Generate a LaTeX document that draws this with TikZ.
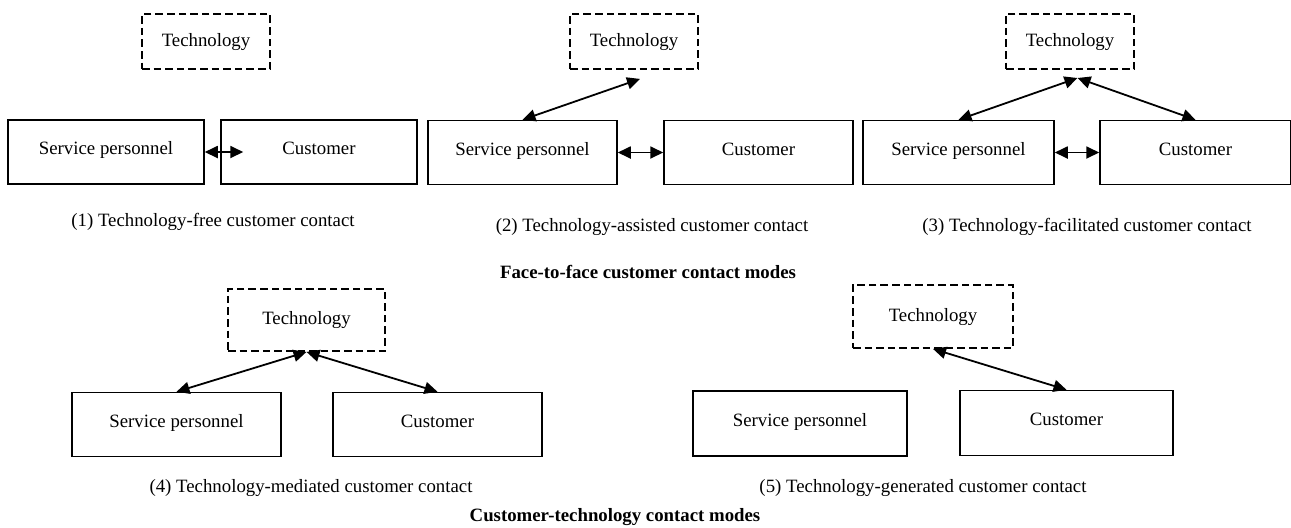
\documentclass[tikz,border=0pt]{standalone}
\usepackage{fontspec}
\setmainfont{Liberation Serif}
\usetikzlibrary{arrows.meta}

\begin{document}
\begin{tikzpicture}[x=0.5pt,y=-0.5pt,
        font=\fontsize{9.4}{11}\selectfont,
        actor/.style={draw,line width=0.75pt,inner sep=0pt,minimum height=32pt,text height=6.5pt,text depth=4pt},
        techbox/.style={draw,line width=0.9pt,dash pattern=on 3.8pt off 2pt,inner sep=0pt},
        link/.style={line width=0.9pt,{Triangle[length=6.5pt,width=6pt]}-{Triangle[length=6.5pt,width=6pt]}},
        caption/.style={inner sep=0pt}]
        \useasboundingbox (0,0) rectangle (1291,527);

        % (1) technology-free
        \node[techbox,minimum width=64pt,minimum height=27.5pt] (tech1) at (206,41.5) {Technology};
        \node[actor,minimum width=98pt] (sp1) at (106,152) {Service personnel};
        \node[actor,minimum width=98pt] (cu1) at (319,152) {Customer};
        \draw[link] (sp1.east) -- ([xshift=11.5pt]cu1.west);
        \node[caption] (cap1) at (213,222) {(1) Technology-free customer contact};

        % (2) technology-assisted
        \node[techbox,minimum width=64pt,minimum height=27.5pt] (tech2) at (634,41.5) {Technology};
        \node[actor,minimum width=94.5pt] (sp2) at (522.5,152.5) {Service personnel};
        \node[actor,minimum width=94.5pt] (cu2) at (758.5,152.5) {Customer};
        \draw[link] (sp2.east) -- (cu2.west);
        \draw[link] (sp2.north) -- ([shift={(6,9)}]tech2.south);
        \node[caption] (cap2) at (652,227) {(2) Technology-assisted customer contact};

        % (3) technology-facilitated
        \node[techbox,minimum width=64pt,minimum height=27.5pt] (tech3) at (1070,41.5) {Technology};
        \node[actor,minimum width=95.5pt] (sp3) at (958.5,152.5) {Service personnel};
        \node[actor,minimum width=95.5pt] (cu3) at (1195.5,152.5) {Customer};
        \coordinate (hub3) at (1077.5,78);
        \draw[link] (sp3.east) -- (cu3.west);
        \draw[link] (sp3.north) -- (hub3);
        \draw[link] (hub3) -- (cu3.north);
        \node[caption] (cap3) at (1087,227) {(3) Technology-facilitated customer contact};

        \node[caption,font=\fontsize{9.4}{11}\selectfont\bfseries] (face) at (648,272) {Face-to-face customer contact modes};

        % (4) technology-mediated
        \node[techbox,minimum width=78.5pt,minimum height=31pt] (tech4) at (306.5,320) {Technology};
        \node[actor,minimum width=104.5pt] (sp4) at (176.5,424.5) {Service personnel};
        \node[actor,minimum width=104.5pt] (cu4) at (437.5,424.5) {Customer};
        \draw[link] (sp4.north) -- (tech4.south);
        \draw[link] (tech4.south) -- (cu4.north);
        \node[caption] (cap4) at (311,488) {(4) Technology-mediated customer contact};

        % (5) technology-generated
        \node[techbox,minimum width=80pt,minimum height=31.5pt] (tech5) at (933,316.5) {Technology};
        \node[actor,minimum width=107pt,minimum height=32.5pt] (sp5) at (800,423.5) {Service personnel};
        \node[actor,minimum width=106.5pt,minimum height=32.5pt] (cu5) at (1066.5,423) {Customer};
        \draw[link] (tech5.south) -- (cu5.north);
        \node[caption] (cap5) at (923,488) {(5) Technology-generated customer contact};

        \node[caption,font=\fontsize{9.4}{11}\selectfont\bfseries] (ctech) at (615,517) {Customer-technology contact modes};
\end{tikzpicture}
\end{document}
